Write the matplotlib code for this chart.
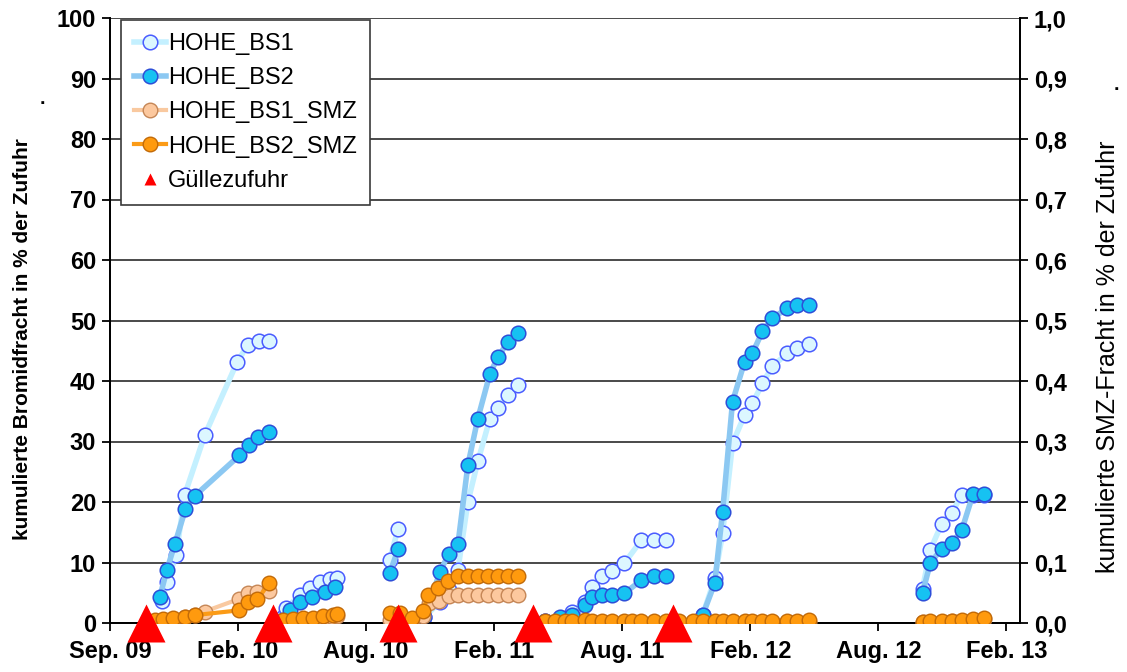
import numpy as np
import pandas as pd
import matplotlib
matplotlib.use('Agg')
import matplotlib.pyplot as plt
from matplotlib.lines import Line2D
import matplotlib.dates as mdates

plt.rcParams['font.family'] = ['Liberation Sans', 'DejaVu Sans']

# None = no measurement -> break in the line (like a blank Excel cell)
bs1_dates = ['2009-11-13', '2009-11-20', '2009-12-03', '2009-12-15', '2010-01-12', '2010-02-27', '2010-03-14', '2010-03-29', '2010-04-13', '2010-04-20',
             '2010-05-02', '2010-05-06', '2010-05-26', '2010-06-09', '2010-06-23', '2010-07-07', '2010-07-17', '2010-08-30',
             '2010-09-29', '2010-10-11', '2010-10-30',
             '2010-11-17', '2010-12-09', '2010-12-21', '2011-01-03', '2011-01-17', '2011-01-31', '2011-02-17', '2011-02-28', '2011-03-14', '2011-03-28', '2011-04-18',
             '2011-05-05', '2011-05-26', '2011-06-13', '2011-06-30', '2011-07-11', '2011-07-25', '2011-08-08', '2011-08-25', '2011-09-18', '2011-10-05', '2011-10-23', '2011-11-10',
             '2011-11-29', '2011-12-13', '2011-12-30', '2012-01-10', '2012-01-24', '2012-02-10', '2012-02-21', '2012-03-06', '2012-03-20', '2012-04-10', '2012-04-24', '2012-05-11', '2012-08-01',
             '2012-10-17', '2012-10-28', '2012-11-13', '2012-11-27', '2012-12-11', '2012-12-27', '2013-01-11']
bs1_vals = [3.7, 6.8, 11.2, 21.2, 31.0, 43.2, 46.0, 46.6, 46.6, None,
            1.0, 2.4, 4.6, 5.8, 6.8, 7.3, 7.4, None,
            10.4, 15.6, None,
            1.0, 3.5, 5.5, 8.8, 20.0, 26.7, 33.8, 35.6, 37.7, 39.3, None,
            0.3, 0.8, 1.9, 3.5, 6.0, 7.7, 8.6, 9.9, 13.7, 13.7, 13.7, None,
            0.2, 1.3, 7.4, 14.8, 29.7, 34.4, 36.3, 39.6, 42.4, 44.6, 45.4, 46.1, None,
            5.7, 12.1, 16.4, 18.1, 21.2, 21.2, 21.2]

bs2_dates = ['2009-11-10', '2009-11-20', '2009-12-01', '2009-12-16', '2009-12-29', '2010-03-02', '2010-03-15', '2010-03-28', '2010-04-13', '2010-04-20',
             '2010-05-02', '2010-05-12', '2010-05-26', '2010-06-12', '2010-06-30', '2010-07-14', '2010-08-30',
             '2010-09-29', '2010-10-11', '2010-10-30',
             '2010-11-17', '2010-12-09', '2010-12-21', '2011-01-03', '2011-01-17', '2011-01-31', '2011-02-17', '2011-02-28', '2011-03-14', '2011-03-28', '2011-04-18',
             '2011-05-05', '2011-05-26', '2011-06-13', '2011-06-30', '2011-07-11', '2011-07-25', '2011-08-08', '2011-08-25', '2011-09-18', '2011-10-05', '2011-10-23', '2011-11-10',
             '2011-11-29', '2011-12-13', '2011-12-30', '2012-01-10', '2012-01-24', '2012-02-10', '2012-02-21', '2012-03-06', '2012-03-20', '2012-04-10', '2012-04-24', '2012-05-11', '2012-08-01',
             '2012-10-17', '2012-10-28', '2012-11-13', '2012-11-27', '2012-12-11', '2012-12-27', '2013-01-11']
bs2_vals = [4.3, 8.8, 13.0, 18.8, 21.0, 27.7, 29.5, 30.8, 31.6, None,
            0.5, 2.1, 3.5, 4.3, 5.2, 6.0, None,
            8.2, 12.2, None,
            1.0, 8.5, 11.4, 13.0, 26.1, 33.8, 41.2, 43.9, 46.4, 48.0, None,
            0.3, 1.0, 1.3, 3.0, 4.3, 4.6, 4.6, 4.9, 7.1, 7.7, 7.7, None,
            0.2, 1.3, 6.6, 18.4, 36.6, 43.2, 44.6, 48.2, 50.4, 52.0, 52.6, 52.6, None,
            5.0, 9.9, 12.3, 13.2, 15.3, 21.3, 21.3]

# SMZ series (right axis)
smz1_dates = ['2009-11-03', '2009-11-14', '2009-11-28', '2009-12-15', '2009-12-29', '2010-01-12', '2010-03-02', '2010-03-14', '2010-03-27', '2010-04-13', '2010-04-20',
              '2010-05-02', '2010-05-16', '2010-05-30', '2010-06-13', '2010-06-27', '2010-07-11', '2010-07-17', '2010-08-30',
              '2010-09-29', '2010-10-13', '2010-10-30', '2010-11-15', '2010-11-24', '2010-12-08', '2010-12-21', '2011-01-03', '2011-01-17', '2011-01-31', '2011-02-14', '2011-02-28', '2011-03-14', '2011-03-28', '2011-04-18',
              '2011-05-05', '2011-05-19', '2011-06-02', '2011-06-13', '2011-06-30', '2011-07-11', '2011-07-25', '2011-08-08', '2011-08-25', '2011-09-05', '2011-09-18', '2011-10-05', '2011-10-23',
              '2011-11-10', '2011-11-29', '2011-12-13', '2011-12-30', '2012-01-10', '2012-01-24', '2012-02-10', '2012-02-21', '2012-03-06', '2012-03-20', '2012-04-10', '2012-04-24', '2012-05-11', '2012-08-01',
              '2012-10-17', '2012-10-28', '2012-11-13', '2012-11-27', '2012-12-11', '2012-12-27', '2013-01-11']
smz1_vals = [0.003, 0.005, 0.007, 0.010, 0.014, 0.019, 0.040, 0.049, 0.052, 0.053, None,
             0.004, 0.005, 0.006, 0.007, 0.009, 0.010, 0.012, None,
             0.005, 0.010, 0.005, 0.012, 0.033, 0.036, 0.044, 0.047, 0.047, 0.047, 0.047, 0.047, 0.047, 0.047, None,
             0.002, 0.002, 0.002, 0.002, 0.002, 0.002, 0.002, 0.002, 0.002, 0.002, 0.002, 0.002, 0.002,
             0.002, 0.002, 0.002, 0.002, 0.002, 0.002, 0.002, 0.002, 0.002, 0.002, 0.002, 0.002, 0.002, None,
             0.001, 0.002, 0.002, 0.003, 0.003, 0.005, 0.006]

smz2_dates = ['2009-11-03', '2009-11-14', '2009-11-28', '2009-12-15', '2009-12-29', '2010-03-02', '2010-03-14', '2010-03-27', '2010-04-13', '2010-04-20',
              '2010-05-02', '2010-05-16', '2010-05-30', '2010-06-13', '2010-06-27', '2010-07-11', '2010-07-17', '2010-08-30',
              '2010-09-29', '2010-10-13', '2010-10-30', '2010-11-15', '2010-11-22', '2010-12-06', '2010-12-20', '2011-01-03', '2011-01-17', '2011-01-31', '2011-02-14', '2011-02-28', '2011-03-14', '2011-03-28', '2011-04-18',
              '2011-05-05', '2011-05-19', '2011-06-02', '2011-06-13', '2011-06-30', '2011-07-11', '2011-07-25', '2011-08-08', '2011-08-25', '2011-09-05', '2011-09-18', '2011-10-05', '2011-10-23',
              '2011-11-10', '2011-11-29', '2011-12-13', '2011-12-30', '2012-01-10', '2012-01-24', '2012-02-10', '2012-02-21', '2012-03-06', '2012-03-20', '2012-04-10', '2012-04-24', '2012-05-11', '2012-08-01',
              '2012-10-17', '2012-10-28', '2012-11-13', '2012-11-27', '2012-12-11', '2012-12-27', '2013-01-11']
smz2_vals = [0.005, 0.006, 0.008, 0.010, 0.013, 0.021, 0.035, 0.039, 0.066, None,
             0.005, 0.006, 0.008, 0.009, 0.012, 0.013, 0.015, None,
             0.016, 0.017, 0.008, 0.020, 0.047, 0.058, 0.069, 0.077, 0.077, 0.077, 0.077, 0.077, 0.077, 0.077, None,
             0.004, 0.004, 0.004, 0.004, 0.005, 0.004, 0.004, 0.004, 0.004, 0.004, 0.004, 0.004, 0.004,
             0.004, 0.004, 0.004, 0.004, 0.004, 0.004, 0.004, 0.004, 0.004, 0.004, 0.004, 0.004, 0.005, None,
             0.002, 0.003, 0.003, 0.004, 0.005, 0.007, 0.008]

guelle_dates = ['2009-10-21', '2010-04-18', '2010-10-11', '2011-04-18', '2011-11-01']

x_start = '2009-09-01'
tick_dates = ['2009-09-01', '2010-02-28', '2010-08-27', '2011-02-23', '2011-08-22', '2012-02-18', '2012-08-16', '2013-02-12']
tick_labels = ['Sep. 09', 'Feb. 10', 'Aug. 10', 'Feb. 11', 'Aug. 11', 'Feb. 12', 'Aug. 12', 'Feb. 13']
left_ticks = list(range(0, 101, 10))
right_ticks = [i / 10 for i in range(11)]


def series(dates, vals):
    v = np.array([np.nan if x is None else x for x in vals], dtype=float)
    return pd.to_datetime(dates), v


fig = plt.figure(figsize=(11.27, 6.72), dpi=100)
ax = fig.add_axes([110 / 1127, 49 / 672, 910 / 1127, 605 / 672])
ax2 = ax.twinx()

ms = 10.5
d, v = series(bs1_dates, bs1_vals)
h1, = ax.plot(d, v, color='#c4f0ff', lw=4, marker='o', ms=ms, mfc='#dcf7ff', mec='#4a5cff', mew=1.1,
              label='HOHE_BS1', zorder=3)
d, v = series(bs2_dates, bs2_vals)
h2, = ax.plot(d, v, color='#8cc8f2', lw=4, marker='o', ms=ms, mfc='#16c2f2', mec='#2d4fd8', mew=1.1,
              label='HOHE_BS2', zorder=4)

d, v = series(smz1_dates, smz1_vals)
h3, = ax2.plot(d, v, color='#f9c9a0', lw=3, marker='o', ms=ms, mfc='#fcc89e', mec='#c58656', mew=1.0,
               label='HOHE_BS1_SMZ', zorder=3)
d, v = series(smz2_dates, smz2_vals)
h4, = ax2.plot(d, v, color='#fb9b16', lw=3, marker='o', ms=ms, mfc='#ff9a0e', mec='#c26a08', mew=1.0,
               label='HOHE_BS2_SMZ', zorder=4)

gd = pd.to_datetime(guelle_dates)
ax2.plot(gd, np.zeros(len(gd)), ls='none', marker='^', ms=28, color='#ff0000', mec='none',
         clip_on=False, zorder=6)
h5 = Line2D([], [], ls='none', marker='^', ms=9, color='#ff0000', mec='none', label='Güllezufuhr')

x0 = pd.Timestamp(x_start)
ax.set_xlim(x0, x0 + pd.Timedelta(days=1279))
ax.set_xticks(mdates.date2num(pd.to_datetime(tick_dates)))
ax.set_xticklabels(tick_labels, fontsize=17, fontweight='bold')

ax.set_ylim(0, 100)
ax.set_yticks(left_ticks)
ax.set_yticklabels([str(t) for t in left_ticks], fontsize=17, fontweight='bold')
ax2.set_ylim(0, 1.0)
ax2.set_yticks(right_ticks)
ax2.set_yticklabels([f'{t:.1f}'.replace('.', ',') for t in right_ticks], fontsize=17, fontweight='bold')

ax.grid(axis='y', color='#3c3c3c', lw=1.3)
ax.set_axisbelow(True)
for a in (ax, ax2):
    a.spines['top'].set_visible(False)
    for s in ('left', 'right', 'bottom'):
        a.spines[s].set_color('black')
        a.spines[s].set_linewidth(1.3)
ax.tick_params(axis='x', direction='out', length=6, width=1.3, pad=6)
ax.tick_params(axis='y', direction='out', length=6, width=1.3, pad=4)
ax2.tick_params(axis='y', direction='out', length=6, width=1.3, pad=4)

ax.set_ylabel('kumulierte Bromidfracht in % der Zufuhr', fontsize=15, fontweight='bold',
              family=['Liberation Sans Narrow', 'Liberation Sans'])
ax.yaxis.set_label_coords(-0.086, 0.47)
ax2.set_ylabel('kumulierte SMZ-Fracht in % der Zufuhr', fontsize=18, rotation=90)
ax2.yaxis.set_label_coords(1.084, 0.44)
fig.text(40 / 1127, 1 - 104 / 672, '.', fontsize=14, fontweight='bold')
fig.text(1114 / 1127, 1 - 90 / 672, '.', fontsize=14, fontweight='bold')

leg = ax2.legend(handles=[h1, h2, h3, h4, h5], loc='upper left', bbox_to_anchor=(0.012, 0.997),
                 borderaxespad=0, fontsize=17, handlelength=1.35, handletextpad=0.1,
                 labelspacing=0.52, borderpad=0.55, fancybox=False, framealpha=1)
leg.get_frame().set_edgecolor('#3a3a3a')
leg.get_frame().set_linewidth(1.2)

fig.savefig('out.png', dpi=100)
